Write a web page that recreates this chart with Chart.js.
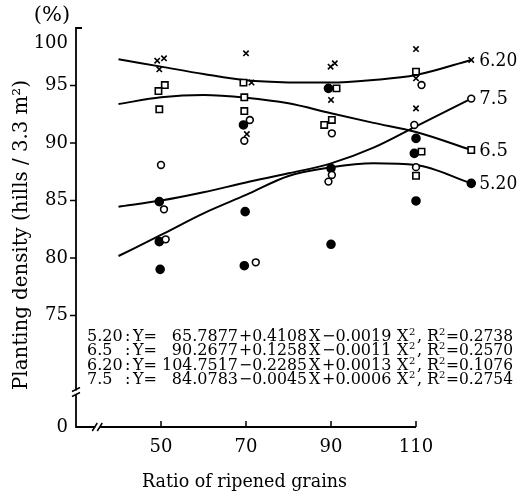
<!DOCTYPE html>
<html>
<head>
<meta charset="utf-8">
<script src="https://cdn.jsdelivr.net/npm/chart.js@4/dist/chart.umd.min.js"></script>
<style>
  html, body { margin: 0; padding: 0; background: #fff; }
  canvas { display: block; }
</style>
</head>
<body>
<canvas id="grafico" width="523" height="494"></canvas>
<script>
// ------------------------------------------------------------ data
const xTicks = [50, 70, 90, 110];
const yTicks = [75, 80, 85, 90, 95];
const yTop = 100;

// fitted curves, sampled along x
const curveX   = [40, 50, 60, 70, 80, 90, 100, 110, 123];
const curve520 = [80.17, 82.0, 83.88, 85.48, 87.13, 87.88, 88.23, 88.09, 86.49];
const curve65  = [93.39, 93.97, 94.17, 93.94, 93.45, 92.58, 91.75, 90.95, 89.39];
const curve620 = [97.28, 96.64, 96.0, 95.45, 95.27, 95.25, 95.48, 95.91, 97.22];
const curve75  = [84.46, 84.99, 85.71, 86.57, 87.36, 88.23, 89.6, 91.45, 93.86];

// observations
const obs620X = [49.1, 50.7, 49.6, 70.0, 71.3, 70.2, 89.9, 90.9, 90.0, 110.0, 110.0, 110.0];
const obs620Y = [97.16, 97.36, 96.41, 97.8, 95.25, 90.78, 96.64, 96.93, 93.74, 98.17, 95.62, 93.01];
const obs65X  = [50.9, 49.4, 49.6, 69.4, 69.6, 69.6, 91.3, 88.4, 90.2, 110.0, 111.3, 110.0];
const obs65Y  = [95.04, 94.52, 92.93, 95.25, 93.97, 92.78, 94.75, 91.57, 92.0, 96.2, 89.25, 87.15];
const obs75X  = [50.0, 50.7, 51.1, 70.9, 69.6, 72.3, 90.2, 90.2, 89.4, 111.3, 109.6, 110.0];
const obs75Y  = [88.09, 84.23, 81.62, 92.0, 90.2, 79.62, 90.84, 87.22, 86.64, 95.04, 91.57, 87.9];
const obs520X = [49.6, 49.6, 49.8, 69.4, 69.8, 69.6, 89.4, 90.0, 90.0, 110.0, 109.6, 110.0];
const obs520Y = [84.9, 81.42, 79.01, 91.57, 84.03, 79.33, 94.75, 87.8, 81.19, 90.4, 89.1, 84.96];

// regression equations
const eqTags  = ["5.20", "6.5", "6.20", "7.5"];
const eqConst = ["65.7877", "90.2677", "104.7517", "84.0783"];
const eqLin   = ["+0.4108", "+0.1258", "\u22120.2285", "\u22120.0045"];
const eqQuad  = ["\u22120.0019", "\u22120.0011", "+0.0013", "+0.0006"];
const eqR2    = ["0.2738", "0.2570", "0.1076", "0.2754"];

// ------------------------------------------------------------ config
const FONTE = '"DejaVu Serif", "Liberation Serif", serif';
const PRETO = "#000";
const Y_BASE = 65.3;   // bottom of the broken y axis, labelled 0
const Y_QUEBRA = 68.3; // where the y-axis break marks sit
const X_QUEBRA = 35;

function pontos(xs, ys) {
  return xs.map((x, i) => ({ x, y: ys[i] }));
}

function serieObs(xs, ys, estilo) {
  return Object.assign({
    data: pontos(xs, ys),
    showLine: false,
    pointBorderColor: PRETO,
    pointBorderWidth: 1.6,
    clip: false,
  }, estilo);
}

function curva(ys, estilo) {
  const ultimo = curveX.length - 1;
  return {
    data: pontos(curveX, ys),
    showLine: true,
    borderColor: PRETO,
    borderWidth: 2,
    cubicInterpolationMode: "monotone",
    pointStyle: estilo.pointStyle,
    pointRadius: (c) => (c.dataIndex === ultimo ? estilo.pointRadius : 0),
    pointBackgroundColor: estilo.pointBackgroundColor,
    pointBorderColor: PRETO,
    pointBorderWidth: 1.6,
    clip: false,
  };
}

const estCruz = { pointStyle: "crossRot", pointRadius: 3.8, pointBackgroundColor: PRETO };
const estQuad = { pointStyle: "rect", pointRadius: 4.5, pointBackgroundColor: "#fff" };
const estAberto = { pointStyle: "circle", pointRadius: 3.4, pointBackgroundColor: "#fff" };
const estCheio = { pointStyle: "circle", pointRadius: 4, pointBackgroundColor: PRETO };

function texto(ctx, s, x, y, tam, alinhar, larguraMax) {
  ctx.font = `${tam}px ${FONTE}`;
  ctx.textAlign = alinhar || "left";
  if (larguraMax) ctx.fillText(s, x, y, larguraMax);
  else ctx.fillText(s, x, y);
}

// axes, breaks and all free text
const extras = {
  id: "extras",
  afterDraw(chart) {
    const { ctx } = chart;
    const sx = chart.scales.x, sy = chart.scales.y;
    const x0 = sx.getPixelForValue(sx.min);
    const yb = sy.getPixelForValue(Y_BASE);
    const yt = sy.getPixelForValue(yTop);

    ctx.save();
    ctx.strokeStyle = PRETO;
    ctx.fillStyle = PRETO;
    ctx.lineCap = "butt";

    // y axis, then x axis up to the last tick
    ctx.lineWidth = 1.8;
    ctx.beginPath();
    ctx.moveTo(x0 + 6, yt);
    ctx.lineTo(x0, yt);
    ctx.lineTo(x0, yb);
    ctx.lineTo(sx.getPixelForValue(xTicks[xTicks.length - 1]), yb);
    ctx.stroke();

    ctx.lineWidth = 1.5;
    ctx.beginPath();
    yTicks.forEach((v) => {
      const p = sy.getPixelForValue(v);
      ctx.moveTo(x0 - 6, p);
      ctx.lineTo(x0, p);
    });
    xTicks.forEach((v) => {
      const p = sx.getPixelForValue(v);
      ctx.moveTo(p, yb);
      ctx.lineTo(p, yb - 6);
    });
    ctx.stroke();

    // break on y axis
    const qy = sy.getPixelForValue(Y_QUEBRA);
    ctx.fillStyle = "#fff";
    ctx.fillRect(x0 - 3, qy - 2, 6, 4);
    ctx.beginPath();
    ctx.moveTo(x0 - 4, qy - 1); ctx.lineTo(x0 + 4, qy - 5);
    ctx.moveTo(x0 - 4, qy + 4); ctx.lineTo(x0 + 4, qy);
    ctx.stroke();

    // break on x axis
    const qx = sx.getPixelForValue(X_QUEBRA);
    ctx.fillRect(qx - 2, yb - 3, 5, 6);
    ctx.beginPath();
    ctx.moveTo(qx - 5, yb + 4); ctx.lineTo(qx, yb - 4);
    ctx.moveTo(qx, yb + 4); ctx.lineTo(qx + 5, yb - 4);
    ctx.stroke();

    ctx.fillStyle = PRETO;
    ctx.textBaseline = "middle";

    // top label and unit
    texto(ctx, String(yTop), x0 - 8, yt + 15.5, 18, "right");
    texto(ctx, "(%)", 52, 16, 21, "center", 39);

    // curve names at the line ends
    const finais = [
      [eqTags[0], curve520], [eqTags[1], curve65], [eqTags[2], curve620], [eqTags[3], curve75],
    ];
    const xf = sx.getPixelForValue(curveX[curveX.length - 1]) + 8;
    finais.forEach(([nome, ys]) => {
      texto(ctx, nome, xf, sy.getPixelForValue(ys[ys.length - 1]) + 1, 18, "left", 38);
    });

    // equations block
    ctx.textBaseline = "alphabetic";
    eqTags.forEach((tag, i) => {
      const b = 340.5 + i * 14.6;
      texto(ctx, tag, 87, b, 16, "left", 38);
      texto(ctx, ":", 125, b, 16);
      texto(ctx, "Y=", 133, b, 16, "left", 28);
      texto(ctx, eqConst[i], 238, b, 16, "right", 76);
      texto(ctx, eqLin[i], 239, b, 16, "left", 68);
      texto(ctx, "X", 309, b, 16);
      texto(ctx, eqQuad[i], 322, b, 16, "left", 73);
      texto(ctx, "X", 397, b, 16);
      texto(ctx, "2", 409, b - 6, 10);
      texto(ctx, ",", 417, b, 16);
      texto(ctx, "R", 427, b, 16);
      texto(ctx, "2", 439, b - 6, 10);
      texto(ctx, "=" + eqR2[i], 446, b, 16, "left", 67);
    });

    // axis titles
    texto(ctx, "Ratio of ripened grains", 244.5, 487, 18, "center", 205);
    ctx.translate(27, 235);
    ctx.rotate(-Math.PI / 2);
    texto(ctx, "Planting density (hills / 3.3 m\u00B2)", 0, 0, 20, "center", 310);
    ctx.restore();
  },
};

new Chart(document.getElementById("grafico"), {
  type: "scatter",
  data: {
    datasets: [
      serieObs(obs620X, obs620Y, estCruz),
      serieObs(obs65X, obs65Y, estQuad),
      serieObs(obs75X, obs75Y, estAberto),
      serieObs(obs520X, obs520Y, estCheio),
      curva(curve620, estCruz),
      curva(curve65, estQuad),
      curva(curve75, estAberto),
      curva(curve520, estCheio),
    ],
  },
  options: {
    responsive: false,
    animation: false,
    layout: { padding: { left: 0, top: 28, right: 47.5, bottom: 0 } },
    plugins: { legend: { display: false }, tooltip: { enabled: false } },
    scales: {
      x: {
        type: "linear", min: 30, max: 124,
        afterBuildTicks: (s) => { s.ticks = xTicks.map((v) => ({ value: v })); },
        afterFit: (s) => { s.height = 67; },
        grid: { display: false, drawTicks: false },
        border: { display: false },
        ticks: { padding: 10, maxRotation: 0, autoSkip: false, color: PRETO, font: { family: FONTE, size: 18 } },
      },
      y: {
        type: "linear", min: Y_BASE, max: yTop,
        afterBuildTicks: (s) => { s.ticks = [Y_BASE, ...yTicks].map((v) => ({ value: v })); },
        afterFit: (s) => { s.width = 76; },
        grid: { display: false, drawTicks: false },
        border: { display: false },
        ticks: {
          padding: 8, color: PRETO, font: { family: FONTE, size: 18 },
          callback: (v) => (v === Y_BASE ? "0" : String(v)),
        },
      },
    },
  },
  plugins: [extras],
});
</script>
</body>
</html>
